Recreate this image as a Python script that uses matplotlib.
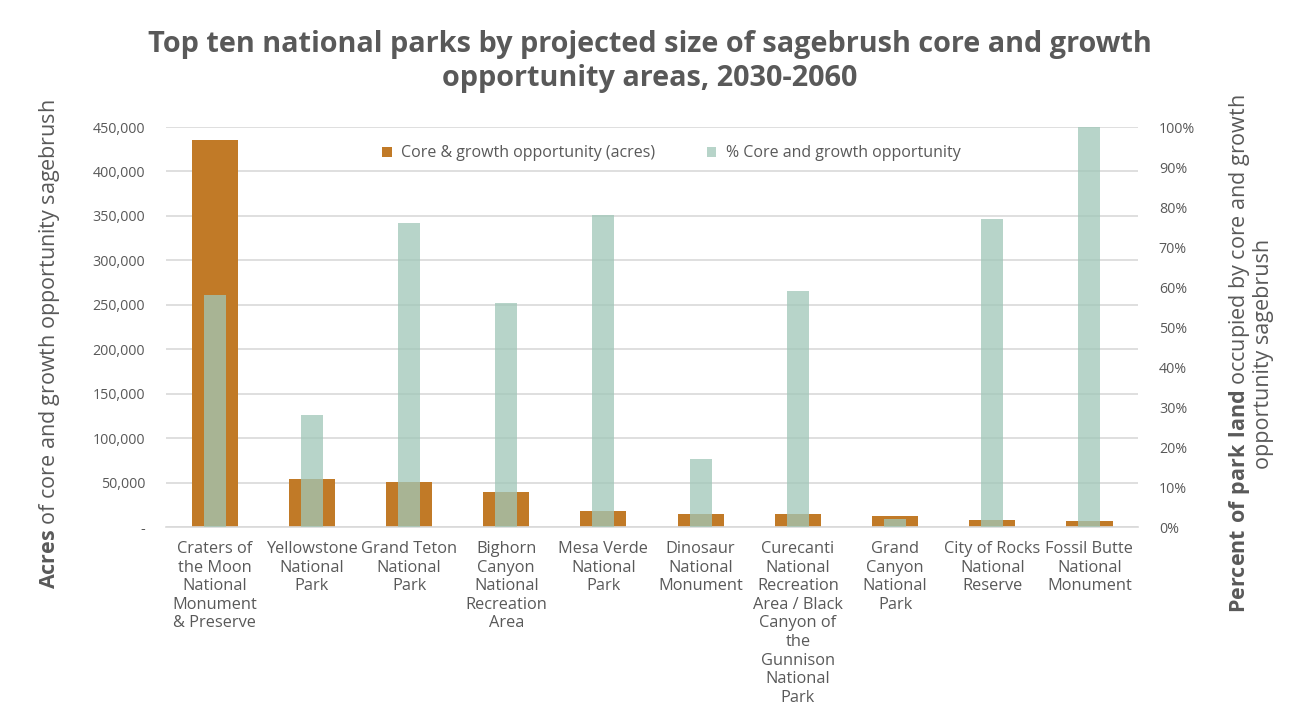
import numpy as np
import matplotlib
matplotlib.use("Agg")
import matplotlib.pyplot as plt
from matplotlib.ticker import FuncFormatter

plt.rcParams.update({
    "font.family": ["Open Sans", "DejaVu Sans"],
    "mathtext.fontset": "custom",
    "mathtext.rm": "Open Sans",
    "mathtext.bf": "Open Sans:bold",
    "text.color": "#595959",
})

# ---------- data ----------
parks = [
    "Craters of\nthe Moon\nNational\nMonument\n& Preserve",
    "Yellowstone\nNational\nPark",
    "Grand Teton\nNational\nPark",
    "Bighorn\nCanyon\nNational\nRecreation\nArea",
    "Mesa Verde\nNational\nPark",
    "Dinosaur\nNational\nMonument",
    "Curecanti\nNational\nRecreation\nArea / Black\nCanyon of\nthe\nGunnison\nNational\nPark",
    "Grand\nCanyon\nNational\nPark",
    "City of Rocks\nNational\nReserve",
    "Fossil Butte\nNational\nMonument",
]
acres = [435000, 54000, 50500, 39500, 18500, 15000, 14300, 12700, 7800, 7000]
pct = [58, 28, 76, 56, 78, 17, 59, 2, 77, 100]

orange = "#C17A27"
green = "#A1C7B8"
grey = "#595959"

fig = plt.figure(figsize=(13, 7.25), dpi=100)
ax = fig.add_axes([0.1277, 0.2731, 0.7477, 0.5517])
ax2 = ax.twinx()

x = np.arange(len(parks))
ax.bar(x, acres, width=0.475, color=orange, label="Core & growth opportunity (acres)", zorder=2)
ax2.bar(x, pct, width=0.226, color=green, alpha=0.76, label="% Core and growth opportunity", zorder=2)

ax.set_xlim(-0.5, len(parks) - 0.5)
ax.set_ylim(0, 450000)
ax.set_yticks(np.arange(0, 450001, 50000))
ax.yaxis.set_major_formatter(FuncFormatter(lambda v, p: "-" if v == 0 else f"{int(v):,}"))
ax2.set_ylim(0, 100)
ax2.set_yticks(np.arange(0, 101, 10))
ax2.yaxis.set_major_formatter(FuncFormatter(lambda v, p: f"{int(v)}%"))

ax.grid(axis="y", color="#D9D9D9", linewidth=1.2, zorder=0)
ax.set_axisbelow(True)
for a in (ax, ax2):
    for s in a.spines.values():
        s.set_visible(False)
ax.spines["bottom"].set_visible(True)
ax.spines["bottom"].set_color("#D9D9D9")
ax.spines["bottom"].set_linewidth(1.2)

ax.set_xticks(x)
ax.set_xticklabels(parks, fontsize=11.8, color=grey, linespacing=1.22)
ax.tick_params(axis="x", length=0, pad=10)
ax.tick_params(axis="y", length=0, labelsize=10.3, labelcolor=grey, pad=15)
ax2.tick_params(axis="y", length=0, labelsize=10.3, labelcolor=grey, pad=15)

fig.text(0.5, 0.915, "Top ten national parks by projected size of sagebrush core and growth\nopportunity areas, 2030-2060",
         ha="center", va="center", fontsize=20.8, fontweight="bold", color=grey, linespacing=1.2)

fig.text(0.038, 0.525, r"$\bf{Acres}$ of core and growth opportunity sagebrush",
         rotation=90, ha="center", va="center", fontsize=15.5, color=grey)
fig.text(0.962, 0.512,
         r"$\bf{Percent\ of\ park\ land}$ occupied by core and growth" + "\nopportunity sagebrush",
         rotation=90, ha="center", va="center", fontsize=15.5, color=grey,
         multialignment="center", linespacing=1.05)

h1, l1 = ax.get_legend_handles_labels()
h2, l2 = ax2.get_legend_handles_labels()
leg = ax2.legend(h1 + h2, l1 + l2, loc="upper center", bbox_to_anchor=(0.52, 0.99), ncol=2,
                 frameon=False, fontsize=11.5, handlelength=0.6, handleheight=0.6,
                 columnspacing=3.2, handletextpad=0.6)
for t in leg.get_texts():
    t.set_color(grey)

fig.savefig("out.png", dpi=100)
